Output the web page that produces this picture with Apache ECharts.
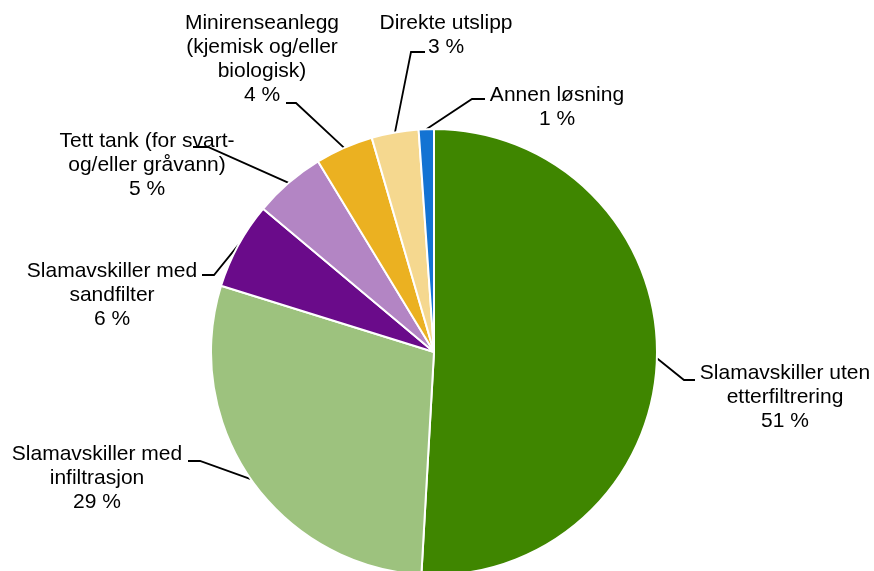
<!DOCTYPE html>
<html>
<head>
<meta charset="utf-8">
<script src="https://cdn.jsdelivr.net/npm/echarts@6/dist/echarts.min.js"></script>
<style>
  html, body { margin: 0; padding: 0; background: #fff; }
  #chart { width: 874px; height: 571px; }
</style>
</head>
<body>
<div id="chart"></div>
<script>
// categories and shares (percent), clockwise from 12 o'clock
const categories = [
  "Slamavskiller uten\netterfiltrering",
  "Slamavskiller med\ninfiltrasjon",
  "Slamavskiller med\nsandfilter",
  "Tett tank (for svart-\nog/eller gråvann)",
  "Minirenseanlegg\n(kjemisk og/eller\nbiologisk)",
  "Direkte utslipp",
  "Annen løsning"
]
const shares = [50.9, 28.9, 6.3, 5.2, 4.2, 3.4, 1.1]
const colors = ["#3f8600", "#9dc27e", "#6a0b8a", "#b385c4", "#ebb121", "#f5d88f", "#1373d3"]

// where each label block sits (center), and where its leader line touches it
const labelCenter = [[785, 397], [97, 478], [112, 295], [147, 165], [262, 59], [446, 35], [557, 107]]
const labelAnchor = [[-90, -17], [91, -17], [90, -20], [46, -18], [24, 44], [-21, 17], [-72, -8]]
const elbowLen = [11, 12, 12, 15, 10, 14, 13]

const chart = echarts.init(document.getElementById("chart"))

const option = {
  animation: false,
  backgroundColor: "#fff",
  color: colors,
  series: [{
    type: "pie",
    center: [434, 352],
    radius: 223,
    startAngle: 90,
    clockwise: true,
    avoidLabelOverlap: false,
    itemStyle: { borderColor: "#fff", borderWidth: 2 },
    label: {
      show: true,
      position: "outside",
      color: "#000",
      fontFamily: "Liberation Sans, Arial, sans-serif",
      fontSize: 21,
      lineHeight: 24,
      overflow: "none",
      align: "center",
      formatter: p => p.name + "\n" + Math.round(p.percent) + " %"
    },
    labelLine: {
      show: true,
      length: 10,
      length2: 10,
      lineStyle: { color: "#000", width: 1.8 }
    },
    labelLayout: params => {
      const i = params.dataIndex
      const [cx, cy] = labelCenter[i]
      const ax = cx + labelAnchor[i][0]
      const ay = cy + labelAnchor[i][1]
      const dir = labelAnchor[i][0] < 0 ? -1 : 1
      const arcPt = params.labelLinePoints ? params.labelLinePoints[0] : [ax, ay]
      return {
        x: cx,
        y: cy,
        align: "center",
        verticalAlign: "middle",
        labelLinePoints: [arcPt, [ax + dir * elbowLen[i], ay], [ax, ay]]
      }
    },
    emphasis: { disabled: true },
    data: categories.map((c, i) => ({ name: c, value: shares[i] }))
  }]
}

chart.setOption(option)
</script>
</body>
</html>
